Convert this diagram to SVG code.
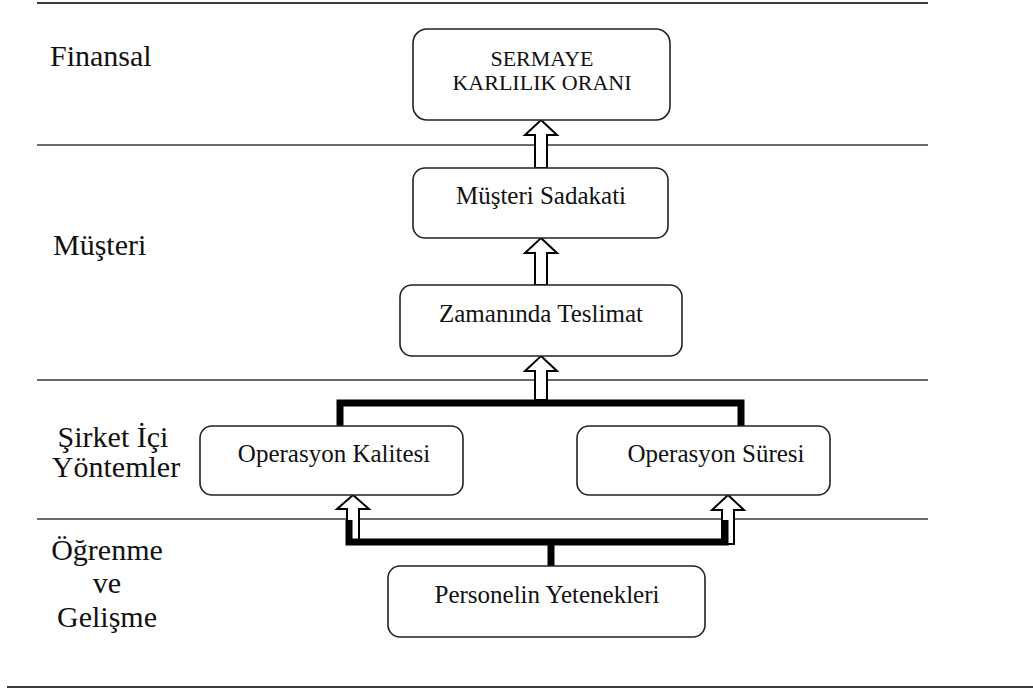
<svg xmlns="http://www.w3.org/2000/svg" width="1033" height="691" viewBox="0 0 1033 691">
<style>
.sep{stroke:#3a3a3a;stroke-width:1.6;fill:none}
.box{fill:#fff;stroke:#222;stroke-width:1.6}
.lbl{font-family:"Liberation Serif","Times New Roman",serif;font-size:30px;fill:#111}
.txt{font-family:"Liberation Serif","Times New Roman",serif;font-size:25px;fill:#111;text-anchor:middle}
.cap{font-family:"Liberation Serif","Times New Roman",serif;font-size:22px;fill:#111;text-anchor:middle}
.arr{fill:#fff;stroke:#000;stroke-width:2;stroke-linejoin:miter}
.thick{fill:none;stroke:#000;stroke-width:7;stroke-linejoin:miter}
</style>
<rect width="1033" height="691" fill="#fff"/>
<g id="separators">
<line class="sep" x1="37" y1="3" x2="928" y2="3" style="stroke-width:2.2"/>
<line class="sep" x1="37" y1="145" x2="928" y2="145"/>
<line class="sep" x1="37" y1="380" x2="928" y2="380"/>
<line class="sep" x1="37" y1="519" x2="928" y2="519"/>
<line class="sep" x1="7" y1="687" x2="1033" y2="687" style="stroke-width:2.2"/>
</g>
<g id="labels">
<text class="lbl" x="50" y="66">Finansal</text>
<text class="lbl" x="53" y="255">Müşteri</text>
<text class="lbl" x="113" y="447" text-anchor="middle">Şirket İçi</text>
<text class="lbl" x="116" y="477" text-anchor="middle">Yöntemler</text>
<text class="lbl" x="107" y="560" text-anchor="middle">Öğrenme</text>
<text class="lbl" x="107" y="593" text-anchor="middle">ve</text>
<text class="lbl" x="107" y="627" text-anchor="middle">Gelişme</text>
</g>
<g id="connectors">
<path class="arr" d="M541,120 L557,135 L547,135 L547,168 L535,168 L535,135 L525,135 Z"/>
<path class="arr" d="M541,238 L557,253 L547,253 L547,285 L535,285 L535,253 L525,253 Z"/>
<path class="arr" d="M541,356 L557,371 L547,371 L547,400 L535,400 L535,371 L525,371 Z"/>
<path class="thick" d="M340,427 L340,403 L741,403 L741,426"/>
<path class="arr" d="M353,495 L369,509 L359,509 L359,544 L347,544 L347,509 L337,509 Z"/>
<path class="arr" d="M728,495 L744,510 L734,510 L734,544 L722,544 L722,510 L712,510 Z"/>
<path class="thick" d="M349,520 L349,542 L725,542 L725,520"/>
<line class="thick" x1="551" y1="542" x2="551" y2="567"/>
</g>
<g id="node-sermaye">
<rect class="box" x="413" y="29" width="257" height="91" rx="14"/>
<text class="cap" x="542" y="66">SERMAYE</text>
<text class="cap" x="542" y="90">KARLILIK ORANI</text>
</g>
<g id="node-sadakat">
<rect class="box" x="413" y="168" width="255" height="70" rx="12"/>
<text class="txt" x="541" y="204">Müşteri Sadakati</text>
</g>
<g id="node-teslimat">
<rect class="box" x="400" y="285" width="282" height="71" rx="12"/>
<text class="txt" x="541" y="322">Zamanında Teslimat</text>
</g>
<g id="node-kalite">
<rect class="box" x="200" y="426" width="263" height="69" rx="12"/>
<text class="txt" x="334" y="462">Operasyon Kalitesi</text>
</g>
<g id="node-sure">
<rect class="box" x="577" y="426" width="253" height="69" rx="12"/>
<text class="txt" x="716" y="462">Operasyon Süresi</text>
</g>
<g id="node-personel">
<rect class="box" x="388" y="566" width="317" height="71" rx="12"/>
<text class="txt" x="547" y="603">Personelin Yetenekleri</text>
</g>
</svg>
